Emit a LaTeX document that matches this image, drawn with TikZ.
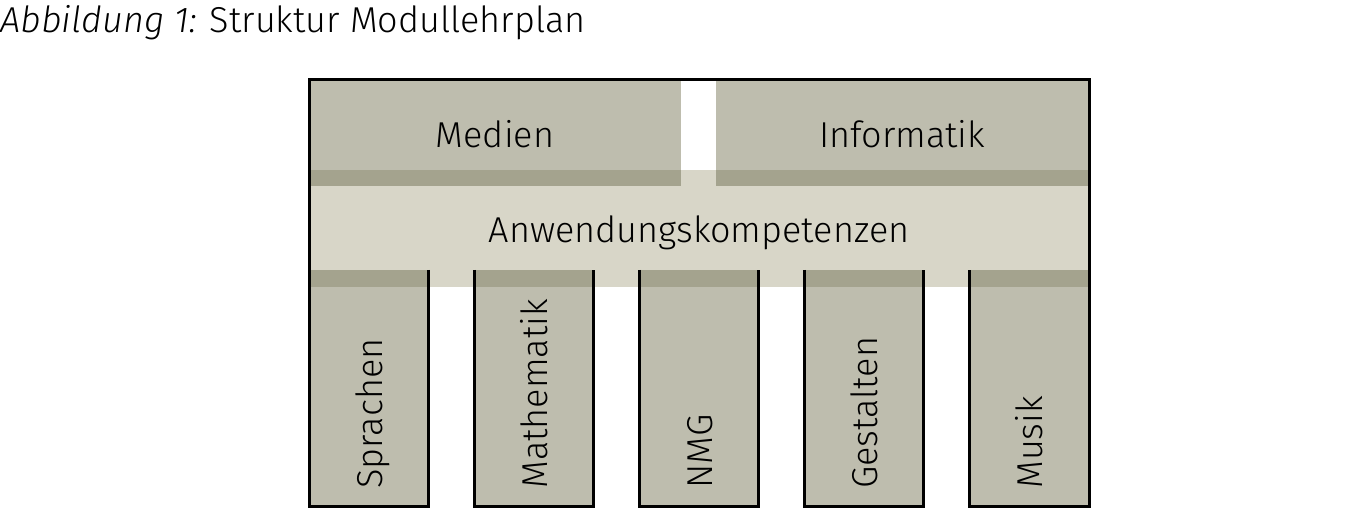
\documentclass[tikz,border=0pt]{standalone}
\usepackage{fontspec}
\setmainfont{Fira Sans Light}[ItalicFont={Fira Sans Light Italic}]
\definecolor{midc}{RGB}{190,189,174}
\definecolor{lightc}{RGB}{216,214,200}
\definecolor{darkc}{RGB}{164,163,142}
\begin{document}
\begin{tikzpicture}[x=0.5pt,y=-0.5pt,
  lbl/.style={inner sep=0pt,font=\fontsize{18}{20}\selectfont},
  vlbl/.style={lbl,rotate=90,anchor=base west},
  outline/.style={line width=1.5pt,line join=miter}]
\useasboundingbox (0,0) rectangle (1359,522);
% title
\node[lbl,anchor=base west] (title) at (0,33) {\textit{Abbildung 1:} Struktur Modullehrplan};
% band
\fill[lightc] (309,170) rectangle (1089,287);
% top boxes
\fill[midc] (309,80) rectangle (681,186);
\fill[midc] (716,80) rectangle (1089,186);
\fill[darkc] (309,170) rectangle (681,186);
\fill[darkc] (716,170) rectangle (1089,186);
% columns
\foreach \a/\b in {309/428,474/593,639/758,804/923,969/1089}{
  \fill[midc] (\a,270) rectangle (\b,507);
  \fill[darkc] (\a,270) rectangle (\b,287);
}
% outlines
\draw[outline] (428,270) -- (428,507) -- (309,507) -- (309,80) -- (1089,80) -- (1089,507) -- (969,507) -- (969,270);
\foreach \a/\b in {474/593,639/758,804/923}{
  \draw[outline] (\a,270) -- (\a,507) -- (\b,507) -- (\b,270);
}
% labels
\node[lbl,anchor=base] (medien) at (495,148) {Medien};
\node[lbl,anchor=base] (informatik) at (902,148) {Informatik};
\node[lbl,anchor=base] (anw) at (699,243) {Anwendungskompetenzen};
\node[vlbl] (sprachen) at (382,489) {Sprachen};
\node[vlbl] (mathe) at (547,489) {Mathematik};
\node[vlbl] (nmg) at (712,489) {NMG};
\node[vlbl] (gestalten) at (877,489) {Gestalten};
\node[vlbl] (musik) at (1042,489) {Musik};
\end{tikzpicture}
\end{document}
